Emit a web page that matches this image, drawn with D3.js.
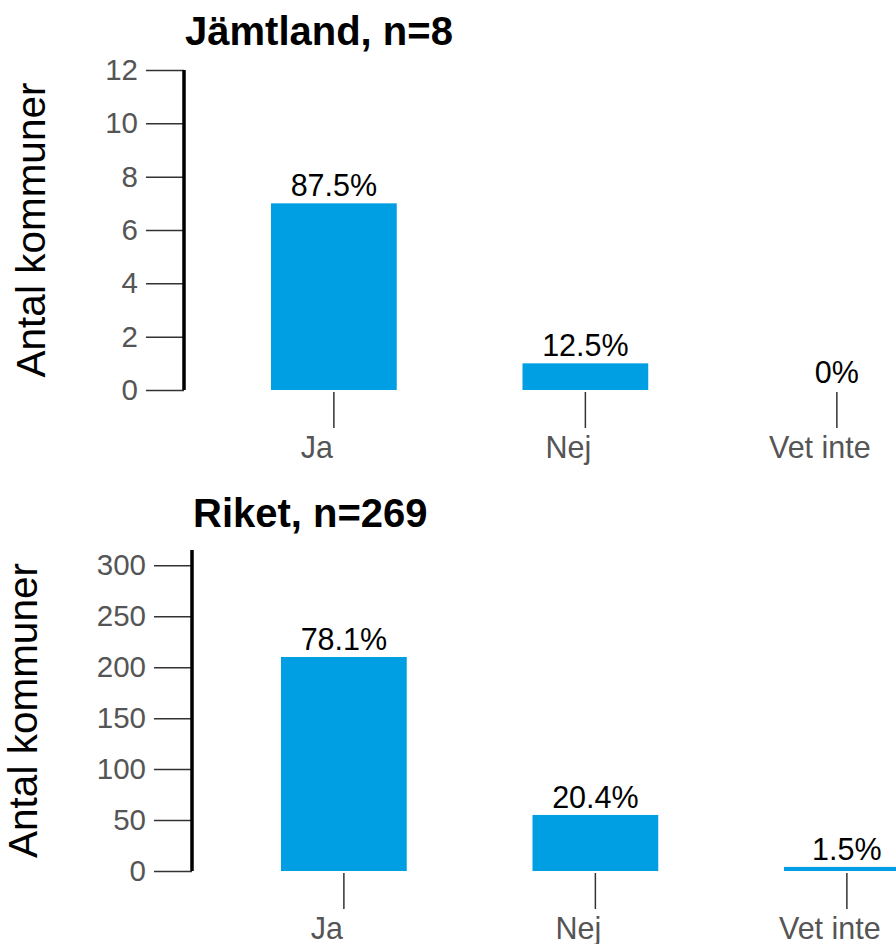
<!DOCTYPE html>
<html>
<head>
<meta charset="utf-8">
<script src="https://cdn.jsdelivr.net/npm/d3@7"></script>
<style>
  body { margin: 0; background: #fff; }
  svg { display: block; font-family: "Liberation Sans", Arial, sans-serif; }
</style>
</head>
<body>
<div id="chart"></div>
<script>
// Data
const categories = ["Ja", "Nej", "Vet inte"];

const jamtlandTitle = "Jämtland, n=8";
const jamtlandCounts = [7, 1, 0];
const jamtlandLabels = ["87.5%", "12.5%", "0%"];
const jamtlandTicks = [0, 2, 4, 6, 8, 10, 12];

const riketTitle = "Riket, n=269";
const riketCounts = [210, 55, 4];
const riketLabels = ["78.1%", "20.4%", "1.5%"];
const riketTicks = [0, 50, 100, 150, 200, 250, 300];

const yTitle = "Antal kommuner";
const barColor = "#009fe3";

const svg = d3
  .select("#chart")
  .append("svg")
  .attr("width", 896)
  .attr("height", 944);

function drawPanel(opts) {
  const { title, counts, labels, ticks, yMax, axisX, top, bottom, bandStart, titleX, titleY, yTitleX } = opts;

  const x = d3
    .scaleBand()
    .domain(categories)
    .range([bandStart, bandStart + 628.75])
    .paddingInner(0.5)
    .paddingOuter(0);

  const y = d3.scaleLinear().domain([0, yMax]).range([bottom, top]);

  const g = svg.append("g");

  // title
  g.append("text")
    .attr("x", titleX)
    .attr("y", titleY)
    .attr("font-size", "40px")
    .attr("font-weight", "bold")
    .attr("fill", "#000")
    .text(title);

  // y axis title
  g.append("text")
    .attr("transform", `translate(${yTitleX},${(top + bottom) / 2}) rotate(-90)`)
    .attr("text-anchor", "middle")
    .attr("font-size", "40.5px")
    .attr("fill", "#000")
    .text(yTitle);

  // bars
  g.selectAll("rect.bar")
    .data(categories)
    .join("rect")
    .attr("class", "bar")
    .attr("x", (d) => x(d))
    .attr("width", x.bandwidth())
    .attr("y", (d, i) => y(counts[i]))
    .attr("height", (d, i) => y(0) - y(counts[i]))
    .attr("fill", barColor);

  // value labels
  g.selectAll("text.val")
    .data(categories)
    .join("text")
    .attr("class", "val")
    .attr("x", (d) => x(d) + x.bandwidth() / 2)
    .attr("y", (d, i) => y(counts[i]) - 7)
    .attr("text-anchor", "middle")
    .attr("font-size", "30.5px")
    .attr("fill", "#000")
    .text((d, i) => labels[i]);

  // y axis
  const yAxis = g
    .append("g")
    .attr("transform", `translate(${axisX},0)`)
    .call(d3.axisLeft(y).tickValues(ticks).tickSize(38).tickPadding(8));
  yAxis.select(".domain").remove();
  yAxis.selectAll(".tick line").attr("stroke", "#333").attr("stroke-width", 1.5);
  yAxis.selectAll(".tick text")
    .attr("font-size", "29.5px")
    .attr("fill", "#555")
    .attr("font-family", "Liberation Sans, Arial, sans-serif");

  g.append("line")
    .attr("x1", axisX)
    .attr("x2", axisX)
    .attr("y1", y(yMax))
    .attr("y2", y(0))
    .attr("stroke", "#000")
    .attr("stroke-width", 3.5);

  // x axis (ticks only), labels sit a little left of their ticks
  const xAxis = g
    .append("g")
    .attr("transform", `translate(0,${y(0) + 2})`)
    .call(d3.axisBottom(x).tickSize(36).tickPadding(8));
  xAxis.select(".domain").remove();
  xAxis.selectAll(".tick line").attr("stroke", "#333").attr("stroke-width", 1.5);
  xAxis.selectAll(".tick text")
    .attr("font-size", "30.5px")
    .attr("fill", "#555")
    .attr("dx", -17)
    .attr("font-family", "Liberation Sans, Arial, sans-serif");
}

drawPanel({
  title: jamtlandTitle,
  counts: jamtlandCounts,
  labels: jamtlandLabels,
  ticks: jamtlandTicks,
  yMax: 12,
  axisX: 184,
  top: 70,
  bottom: 390,
  bandStart: 271,
  titleX: 185,
  titleY: 45,
  yTitleX: 45,
});

drawPanel({
  title: riketTitle,
  counts: riketCounts,
  labels: riketLabels,
  ticks: riketTicks,
  yMax: 315,
  axisX: 192,
  top: 550,
  bottom: 871,
  bandStart: 281,
  titleX: 193,
  titleY: 527,
  yTitleX: 37,
});
</script>
</body>
</html>
